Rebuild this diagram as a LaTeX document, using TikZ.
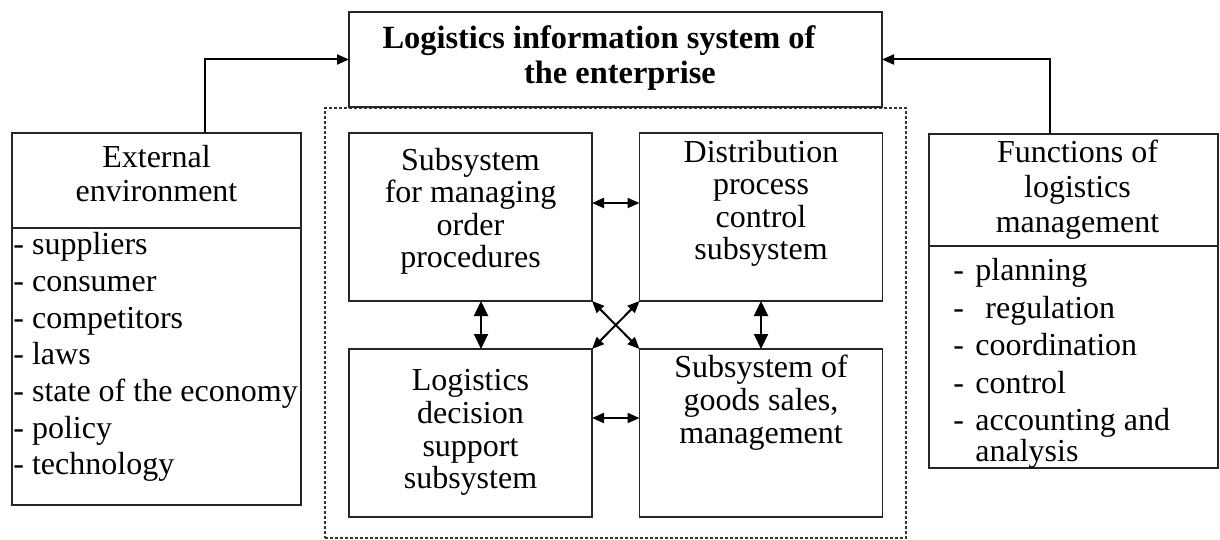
\documentclass[tikz,border=0pt]{standalone}
\usepackage{fontspec}
\setmainfont{Liberation Serif}
\usetikzlibrary{arrows.meta,positioning}

\begin{document}
\begin{tikzpicture}[x=0.5pt,y=-0.5pt,>={Triangle[length=6pt,width=5pt]},
  box/.style={draw=black!85,line width=0.8pt,inner sep=0pt,outer sep=0pt},
  sub box/.style={box,minimum width=121.5pt,minimum height=84pt},
  side box/.style={box,minimum width=144.5pt},
  txt/.style={inner sep=0pt,align=center,font=\fontsize{16}{16.3}\selectfont},
  list/.style={inner sep=0pt,align=left,anchor=north west},
  link/.style={line width=1pt},
  big link/.style={line width=1pt,
    arrows={Triangle[length=7.5pt,width=7pt]-Triangle[length=7.5pt,width=7pt]}}]

  \useasboundingbox (0,0) rectangle (1220,540);

  % dashed frame round the subsystems
  \node[draw=black!80,line width=0.8pt,dash pattern=on 1.5pt off 1pt,
    minimum width=290.5pt,minimum height=215pt] (core) at (615.5,323) {};

  \node[box,fill=white,minimum width=266.5pt,minimum height=47.5pt] (lis) at (615.5,59.5) {};
  \node[txt,font=\fontsize{16.2}{17.5}\selectfont\bfseries] (lis title) at (599,58.5)
    {Logistics information system of\\\hspace*{21pt}the enterprise};

  % external environment
  \node[side box,minimum height=186pt] (ext) at (156.5,319) {};
  \draw[box] ([yshift=-47.5pt]ext.north west) -- ([yshift=-47.5pt]ext.north east);
  \node[txt,font=\fontsize{16}{17}\selectfont,below=5.7pt of ext.north] (ext head)
    {External\\environment};
  \node[list,font=\fontsize{16}{18.35}\selectfont] (ext list) at (13,232)
    {- suppliers\\- consumer\\- competitors\\- laws\\- state of the economy\\- policy\\- technology};

  % functions of logistics management
  \node[side box,minimum height=167pt] (func) at (1073.5,301) {};
  \draw[box] ([yshift=-56pt]func.north west) -- ([yshift=-56pt]func.north east);
  \node[txt,font=\fontsize{16}{17.5}\selectfont,below=2.7pt of func.north,xshift=2pt] (func head)
    {Functions of\\logistics\\management};
  \node[list,font=\fontsize{16}{18.75}\selectfont] (func list) at (953,258)
    {-\hspace{5.7pt}planning\\-\hspace{10.7pt}regulation\\-\hspace{5.7pt}coordination\\
     -\hspace{5.7pt}control\\-\hspace{5.7pt}accounting and\\[-3.25pt]\hspace*{11pt}analysis};

  % subsystems
  \node[sub box] (ord) at (470.5,217) {};
  \node[sub box] (dist) at (761,217) {};
  \node[sub box] (dec) at (470.5,433) {};
  \node[sub box] (sales) at (761,433) {};
  \node[txt,below=7.2pt of ord.north] (ord text) {Subsystem\\for managing\\order\\procedures};
  \node[txt,below=3.2pt of dist.north] (dist text) {Distribution\\process\\control\\subsystem};
  \node[txt,below=10.2pt of dec.north] (dec text) {Logistics\\decision\\support\\subsystem};
  \node[txt,below=3pt of sales.north] (sales text) {Subsystem of\\goods sales,\\management};

  \draw[link,->] ([xshift=24.25pt]ext.north) |- (lis.west);
  \draw[link,->] ([xshift=-11.75pt]func.north) |- (lis.east);

  \draw[link,<->] ([yshift=7pt]ord.east) -- ([yshift=7pt]dist.west);
  \draw[link,<->] ([yshift=7.5pt]dec.east) -- ([yshift=7.5pt]sales.west);
  \draw[big link] ([xshift=5.25pt]ord.south) -- ([xshift=5.25pt]dec.north);
  \draw[big link] (dist.south) -- (sales.north);
  \draw[link,<->] (ord.south east) -- (sales.north west);
  \draw[link,<->] (dist.south west) -- (dec.north east);
\end{tikzpicture}
\end{document}
